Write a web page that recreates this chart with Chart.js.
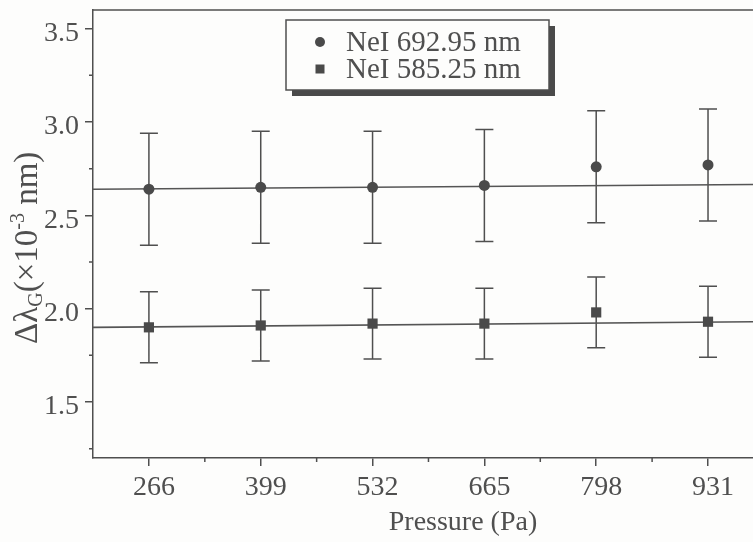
<!DOCTYPE html>
<html>
<head>
<meta charset="utf-8">
<script src="https://cdn.jsdelivr.net/npm/chart.js@4/dist/chart.umd.min.js"></script>
<style>
  html, body { margin: 0; padding: 0; background: #fdfdfc; overflow: hidden; }
  #wrap { width: 753px; height: 542px; }
</style>
</head>
<body>
<div id="wrap"><canvas id="c" width="753" height="542"></canvas></div>
<script>
// Pressure values (Pa) at which the line widths were measured
const pressures = [266, 399, 532, 665, 798, 931];

// Gaussian width Δλ_G (×10^-3 nm) and its uncertainty, NeI 692.95 nm
const ne692 = [2.64, 2.65, 2.65, 2.66, 2.76, 2.77];
const ne692Err = [0.30, 0.30, 0.30, 0.30, 0.30, 0.30];

// Gaussian width Δλ_G (×10^-3 nm) and its uncertainty, NeI 585.25 nm
const ne585 = [1.90, 1.91, 1.92, 1.92, 1.98, 1.93];
const ne585Err = [0.19, 0.19, 0.19, 0.19, 0.19, 0.19];

// Fitted straight lines, evaluated at the two ends of the pressure axis
const fitPressure = [199.5, 984.5];
const fit692 = [2.64, 2.665];
const fit585 = [1.90, 1.93];

// Axis ticks
const yTicks = [1.5, 2.0, 2.5, 3.0, 3.5];
const yMinorTicks = [1.25, 1.75, 2.25, 2.75, 3.25];
const xMinorTicks = [332.5, 465.5, 598.5, 731.5, 864.5];

const seriesLabels = ['NeI 692.95 nm', 'NeI 585.25 nm'];

const INK = '#4f4f4f';
const SERIF = '"Liberation Serif", "Times New Roman", serif';

const pts = (xs, ys) => xs.map((x, i) => ({ x: x, y: ys[i] }));

const noScalePadding = s => {
  s.paddingTop = 0; s.paddingBottom = 0; s.paddingLeft = 0; s.paddingRight = 0;
};

// Error bars, minor ticks and the top frame line
const decorPlugin = {
  id: 'decor',
  beforeDatasetsDraw(chart) {
    const { ctx, chartArea, scales: { x, y } } = chart;
    ctx.save();
    ctx.strokeStyle = INK;
    ctx.lineWidth = 1.5;
    // frame top
    ctx.beginPath();
    ctx.moveTo(chartArea.left, chartArea.top);
    ctx.lineTo(chartArea.right, chartArea.top);
    ctx.stroke();
    // minor ticks
    ctx.beginPath();
    yMinorTicks.forEach(v => {
      const py = y.getPixelForValue(v);
      ctx.moveTo(chartArea.left - 4, py);
      ctx.lineTo(chartArea.left, py);
    });
    xMinorTicks.forEach(v => {
      const px = x.getPixelForValue(v);
      ctx.moveTo(px, chartArea.bottom);
      ctx.lineTo(px, chartArea.bottom + 4);
    });
    ctx.stroke();
    // error bars
    const cap = 9;
    [[ne692, ne692Err], [ne585, ne585Err]].forEach(([vals, errs]) => {
      ctx.beginPath();
      pressures.forEach((p, i) => {
        const px = x.getPixelForValue(p);
        const top = y.getPixelForValue(vals[i] + errs[i]);
        const bot = y.getPixelForValue(vals[i] - errs[i]);
        ctx.moveTo(px, top); ctx.lineTo(px, bot);
        ctx.moveTo(px - cap, top); ctx.lineTo(px + cap, top);
        ctx.moveTo(px - cap, bot); ctx.lineTo(px + cap, bot);
      });
      ctx.stroke();
    });
    ctx.restore();
  },
  afterDraw(chart) {
    const { ctx } = chart;
    ctx.save();
    ctx.fillStyle = INK;

    // x-axis title
    ctx.font = '28px ' + SERIF;
    ctx.textAlign = 'center';
    ctx.textBaseline = 'alphabetic';
    ctx.fillText('Pressure (Pa)', 463, 530);

    // y-axis title with sub/superscripts
    ctx.translate(37, 344);
    ctx.rotate(-Math.PI / 2);
    ctx.textAlign = 'left';
    const big = '33px ' + SERIF, small = '20px ' + SERIF;
    let cx = 0;
    const part = (t, font, dy) => {
      ctx.font = font;
      ctx.fillText(t, cx, dy);
      cx += ctx.measureText(t).width;
    };
    part('\u0394\u03bb', big, 0);
    part('G', small, 5);
    part('(\u00d710', big, 0);
    part('-3', small, -13);
    part(' nm)', big, 0);
    ctx.restore();

    // legend box with drop shadow
    ctx.save();
    const bx = 286, by = 20, bw = 263, bh = 70;
    ctx.fillStyle = '#4a4a4a';
    ctx.fillRect(bx + 6, by + 6, bw, bh);
    ctx.fillStyle = '#fdfdfc';
    ctx.fillRect(bx, by, bw, bh);
    ctx.strokeStyle = INK;
    ctx.lineWidth = 1.5;
    ctx.strokeRect(bx, by, bw, bh);
    ctx.font = '29px ' + SERIF;
    ctx.textBaseline = 'middle';
    ctx.textAlign = 'left';
    const rows = [42, 69];
    chart.data.datasets.filter(d => d.legendRow !== undefined).forEach(d => {
      const ry = rows[d.legendRow];
      ctx.fillStyle = d.backgroundColor;
      if (d.pointStyle === 'rect') {
        ctx.fillRect(320 - 4.5, ry - 4.5, 9, 9);
      } else {
        ctx.beginPath();
        ctx.arc(320, ry, 5, 0, Math.PI * 2);
        ctx.fill();
      }
      ctx.fillStyle = INK;
      ctx.fillText(d.label, 346, ry + 1);
    });
    ctx.restore();
  }
};

new Chart(document.getElementById('c'), {
  data: {
    datasets: [
      {
        type: 'scatter', label: seriesLabels[0], legendRow: 0,
        data: pts(pressures, ne692),
        pointStyle: 'circle', pointRadius: 5.5,
        backgroundColor: '#4a4a4a', borderColor: '#4a4a4a', borderWidth: 0,
        order: 1
      },
      {
        type: 'scatter', label: seriesLabels[1], legendRow: 1,
        data: pts(pressures, ne585),
        pointStyle: 'rect', pointRadius: 7.2,
        backgroundColor: '#4a4a4a', borderColor: '#4a4a4a', borderWidth: 0,
        order: 1
      },
      {
        type: 'line', label: 'fit 692.95',
        data: pts(fitPressure, fit692),
        borderColor: '#555', borderWidth: 1.6, pointRadius: 0, fill: false,
        order: 3
      },
      {
        type: 'line', label: 'fit 585.25',
        data: pts(fitPressure, fit585),
        borderColor: '#555', borderWidth: 1.6, pointRadius: 0, fill: false,
        order: 3
      }
    ]
  },
  options: {
    responsive: false,
    animation: false,
    events: [],
    layout: { autoPadding: false, padding: { top: 10, left: 0, right: 0, bottom: 0 } },
    plugins: { legend: { display: false }, tooltip: { enabled: false } },
    scales: {
      x: {
        type: 'linear',
        min: fitPressure[0], max: fitPressure[1],
        afterBuildTicks: s => { s.ticks = pressures.map(v => ({ value: v })); },
        afterFit: s => { s.height = 84; noScalePadding(s); },
        grid: { drawOnChartArea: false, drawTicks: true, tickLength: 8, color: INK, lineWidth: 1.5 },
        border: { display: true, color: INK, width: 1.5 },
        ticks: {
          color: INK, padding: 5, labelOffset: 5, maxRotation: 0, autoSkip: false,
          font: { family: SERIF, size: 28 },
          callback: v => String(v)
        }
      },
      y: {
        type: 'linear',
        min: 1.2, max: 3.6,
        afterBuildTicks: s => { s.ticks = yTicks.map(v => ({ value: v })); },
        afterFit: s => { s.width = 93; noScalePadding(s); },
        grid: { drawOnChartArea: false, drawTicks: true, tickLength: 8, color: INK, lineWidth: 1.5 },
        border: { display: true, color: INK, width: 1.5 },
        ticks: {
          color: INK, padding: 6, labelOffset: 5,
          font: { family: SERIF, size: 28 },
          callback: v => v.toFixed(1)
        }
      }
    }
  },
  plugins: [decorPlugin]
});
</script>
</body>
</html>
